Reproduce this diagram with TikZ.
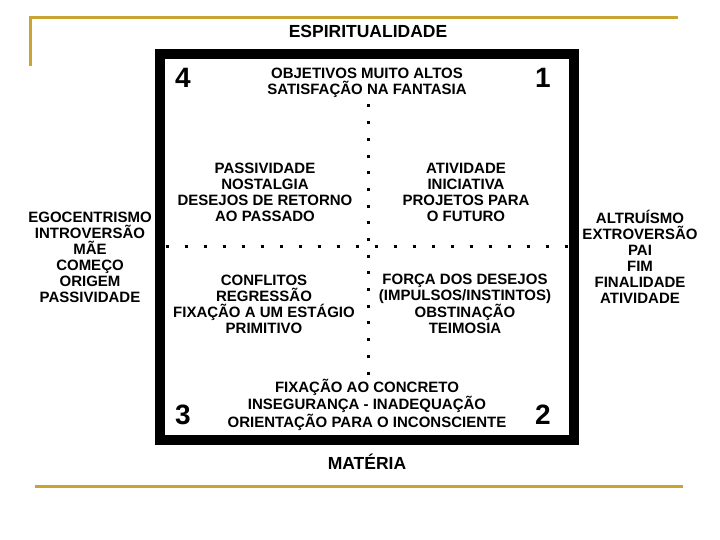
\documentclass[tikz,border=0pt]{standalone}
\usepackage{fontspec}
\setmainfont{Liberation Sans}
\usepackage{tikz}
\definecolor{gold}{RGB}{200,164,48}

\begin{document}
\begin{tikzpicture}[x=1pt,y=-1pt]
			\tikzstyle{txt}=[inner sep=0pt, align=center, text depth=0pt, font=\bfseries\fontsize{15}{16}\selectfont]
			\tikzstyle{pole}=[inner sep=0pt, text depth=0pt, font=\bfseries\fontsize{17.5}{20}\selectfont]
			\tikzstyle{num}=[inner sep=0pt, text depth=0pt, font=\bfseries\fontsize{28}{30}\selectfont]
			\tikzstyle{rule}=[draw=gold, line width=3pt]
			\tikzstyle{dots}=[line width=3pt]

			\useasboundingbox (0,0) rectangle (720,540);

			% gold rules
			\coordinate (ruleA) at (30,66);
			\coordinate (ruleB) at (30,18);
			\coordinate (ruleC) at (678,18);
			\coordinate (ruleD) at (35,486);
			\coordinate (ruleE) at (683,486);
			\draw [rule] (ruleA) -- (ruleB) -- (ruleC);
			\draw [rule] (ruleD) -- (ruleE);

			\node (quad) [draw, line width=9.5pt, inner sep=0pt, minimum width=414pt, minimum height=386pt] at (367,247) {};

			% dotted axes
			\coordinate (vtop) at (368,104.5);
			\coordinate (vbot) at (368,374.5);
			\coordinate (hleft) at (165.5,246);
			\coordinate (hright) at (567.5,246);
			\draw [dots, dash pattern=on 3pt off 13.69pt] (vtop) -- (vbot);
			\draw [dots, dash pattern=on 3pt off 16pt] (hleft) -- (hright);

			\node (spirit) [pole] at (368,31) {ESPIRITUALIDADE};
			\node (matter) [pole] at (367,462) {MATÉRIA};

			\node (n4) [num] at (183,78) {4};
			\node (n1) [num] at (543,78) {1};
			\node (n3) [num] at (183,415) {3};
			\node (n2) [num] at (543,415) {2};

			\node (top) [txt] at (367,81) {OBJETIVOS MUITO ALTOS\\SATISFAÇÃO NA FANTASIA};
			\node (q4) [txt] at (265,192) {PASSIVIDADE\\NOSTALGIA\\DESEJOS DE RETORNO\\AO PASSADO};
			\node (q1) [txt] at (466,192) {ATIVIDADE\\INICIATIVA\\PROJETOS PARA\\O FUTURO};
			\node (q3) [txt] at (264,304) {CONFLITOS\\REGRESSÃO\\FIXAÇÃO A UM ESTÁGIO\\PRIMITIVO};
			\node (q2) [txt] at (465,304) {FORÇA DOS DESEJOS\\(IMPULSOS/INSTINTOS)\\OBSTINAÇÃO\\TEIMOSIA};
			\node (bottom) [txt] at (367,403) {FIXAÇÃO AO CONCRETO\\INSEGURANÇA - INADEQUAÇÃO\\ORIENTAÇÃO PARA O INCONSCIENTE};

			\node (west) [txt] at (90,257) {EGOCENTRISMO\\INTROVERSÃO\\MÃE\\COMEÇO\\ORIGEM\\PASSIVIDADE};
			\node (east) [txt] at (640,257) {ALTRUÍSMO\\EXTROVERSÃO\\PAI\\FIM\\FINALIDADE\\ATIVIDADE};
		\end{tikzpicture}
\end{document}
